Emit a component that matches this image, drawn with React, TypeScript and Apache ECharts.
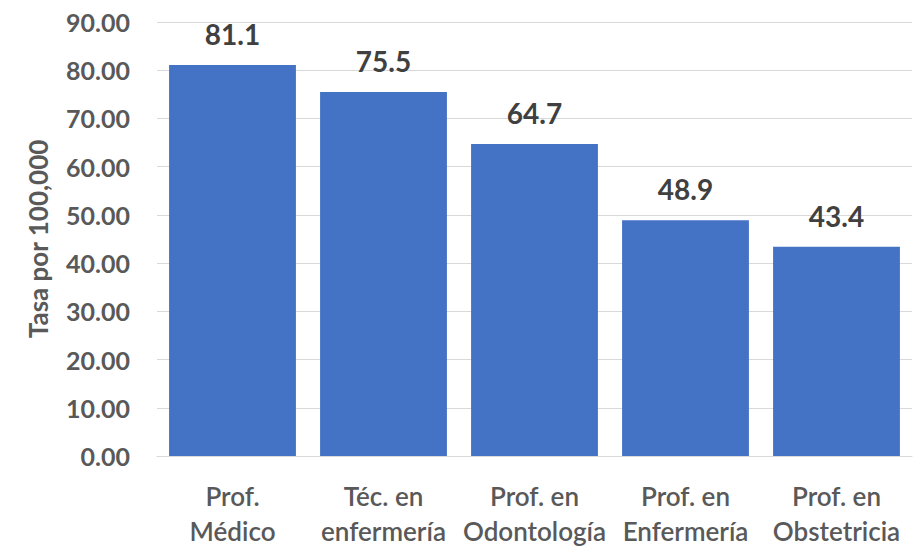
import React, { useEffect, useRef } from "react";
import * as echarts from "echarts";

const categories = [
  "Prof.\nMédico",
  "Téc. en\nenfermería",
  "Prof. en\nOdontología",
  "Prof. en\nEnfermería",
  "Prof. en\nObstetricia",
];
const values = [81.1, 75.5, 64.7, 48.9, 43.4];
const yAxisName = "Tasa por 100,000";

export default function App() {
  const ref = useRef<HTMLDivElement>(null);
  useEffect(() => {
    const chart = echarts.init(ref.current!, null, { renderer: "svg" });
    const font = "Lato, 'Open Sans', sans-serif";
    chart.setOption({
      animation: false,
      grid: { left: 157, right: 3, top: 22, bottom: 90 },
      xAxis: {
        type: "category",
        data: categories,
        axisTick: { show: false },
        axisLine: { show: true, lineStyle: { color: "#d9d9d9", width: 1 } },
        axisLabel: {
          color: "#595959",
          fontSize: 26,
          fontFamily: font,
          fontWeight: 600,
          lineHeight: 35,
          margin: 22,
          interval: 0,
        },
      },
      yAxis: {
        type: "value",
        min: 0,
        max: 90,
        interval: 10,
        name: yAxisName,
        nameLocation: "middle",
        nameGap: 106,
        nameTextStyle: { color: "#595959", fontSize: 26, fontWeight: "bold", fontFamily: font },
        axisLine: { show: false },
        axisTick: { show: false },
        splitLine: { lineStyle: { color: "#d9d9d9", width: 1 } },
        axisLabel: {
          color: "#595959",
          fontSize: 25,
          fontWeight: "bold",
          fontFamily: font,
          margin: 27,
          formatter: (v: number) => v.toFixed(2),
        },
      },
      series: [
        {
          type: "bar",
          data: values,
          barCategoryGap: "16%",
          itemStyle: { color: "#4472C4" },
          label: {
            show: true,
            position: "top",
            distance: 17,
            color: "#404040",
            fontSize: 28,
            fontWeight: "bold",
            fontFamily: font,
            formatter: (p: any) => p.value.toFixed(1),
          },
        },
      ],
    });
    return () => chart.dispose();
  }, []);
  return <div ref={ref} style={{ width: 915, height: 548, position: "absolute", left: 0, top: 0 }} />;
}
